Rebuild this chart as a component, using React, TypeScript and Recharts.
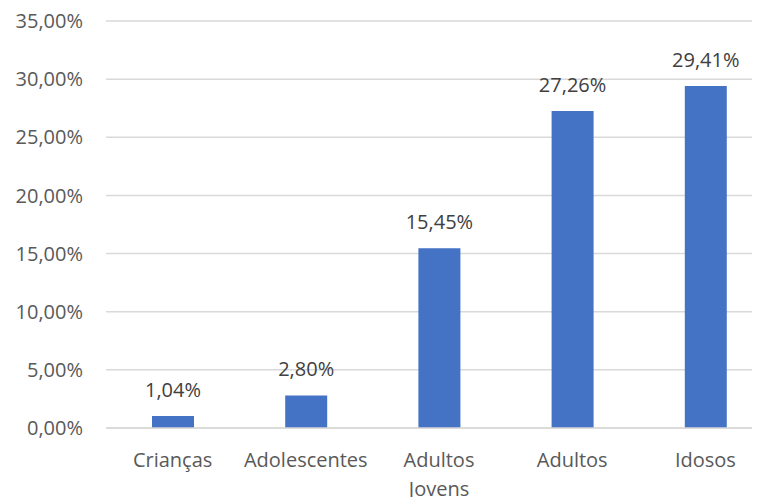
import { Bar, BarChart, CartesianGrid, LabelList, XAxis, YAxis } from "recharts";

const categories = ["Crianças", "Adolescentes", "Adultos Jovens", "Adultos", "Idosos"];
const shares = [1.04, 2.8, 15.45, 27.26, 29.41];
const yTicks = [0, 5, 10, 15, 20, 25, 30, 35];

const data = categories.map((name, i) => ({ name, value: shares[i] }));

const FONT = "'Open Sans', sans-serif";
const pct = (v: number) => `${Number(v).toFixed(2).replace(".", ",")}%`;

// only the two-word label is wider than its band, so it goes on two lines
function CategoryTick(props: any) {
  const { x, y, payload } = props;
  const lines = String(payload.value).split(" ");
  return (
    <text x={x} y={y} textAnchor="middle" fill="#595959" fontSize={20} fontFamily={FONT}>
      {lines.map((line, i) => (
        <tspan key={i} x={x} dy={i === 0 ? 14 : 29}>
          {line}
        </tspan>
      ))}
    </text>
  );
}

export default function App() {
  return (
    <div style={{ marginLeft: -8, marginTop: -8, width: 760, height: 497, overflow: "hidden" }}>
      <BarChart
        width={780}
        height={497}
        data={data}
        margin={{ top: 21, right: 8, left: 0, bottom: 0 }}
      >
        <CartesianGrid vertical={false} stroke="#d9d9d9" strokeWidth={1.5} />
        <XAxis
          dataKey="name"
          height={69}
          interval={0}
          tickLine={false}
          tickSize={0}
          tickMargin={25}
          axisLine={{ stroke: "#d9d9d9", strokeWidth: 1.5 }}
          tick={<CategoryTick />}
        />
        <YAxis
          width={106}
          domain={[0, 35]}
          ticks={yTicks}
          interval={0}
          tickFormatter={pct}
          tickLine={false}
          tickSize={0}
          tickMargin={23}
          axisLine={false}
          tick={{ fill: "#595959", fontSize: 20, fontFamily: FONT }}
        />
        <Bar dataKey="value" fill="#4472c4" barSize={42} isAnimationActive={false}>
          <LabelList
            dataKey="value"
            position="top"
            offset={19}
            formatter={(v: any) => pct(v)}
            fill="#404040"
            fontSize={20}
            fontFamily={FONT}
          />
        </Bar>
      </BarChart>
    </div>
  );
}
